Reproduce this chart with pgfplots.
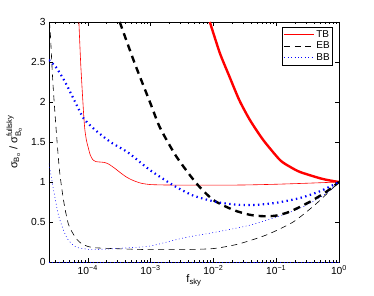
\documentclass[border=0pt]{standalone}
\usepackage{fontspec}
\setmainfont{Liberation Sans}
\usepackage{amsmath}
\usepackage{pgfplots}
\pgfplotsset{compat=1.18}
\begin{document}
\begin{tikzpicture}
\begin{axis}[
  scale only axis, width=290bp, height=240bp,
  xmode=log, xmin=2.42e-5, xmax=1, ymin=0, ymax=3,
  xtick={1e-4,1e-3,1e-2,1e-1,1},
  xticklabels={10\textsuperscript{−4},10\textsuperscript{−3},10\textsuperscript{−2},10\textsuperscript{−1},10\textsuperscript{0}},
  minor xtick={3e-5,4e-5,5e-5,6e-5,7e-5,8e-5,9e-5,2e-4,3e-4,4e-4,5e-4,6e-4,7e-4,8e-4,9e-4,2e-3,3e-3,4e-3,5e-3,6e-3,7e-3,8e-3,9e-3,2e-2,3e-2,4e-2,5e-2,6e-2,7e-2,8e-2,9e-2,0.2,0.3,0.4,0.5,0.6,0.7,0.8,0.9},
  ytick={0,0.5,1,1.5,2,2.5,3},
  tick align=inside, major tick length=4bp, minor tick length=2bp,
  every tick/.style={black, line width=0.4pt},
  axis line style={black, line width=0.5pt},
  tick label style={font=\fontsize{10.3}{11}\selectfont},
  /pgf/number format/assume math mode=true,
  label style={font=\fontsize{11}{12}\selectfont},
  xlabel={f\textsubscript{sky}},
  ylabel={$\text{σ}_{\text{B}_{\text{o}}}\text{ / }\text{σ}_{\text{B}_{\text{o}}}^{\text{fullsky}}$},
  xlabel style={at={(axis description cs:0.5,-0.075)}, anchor=center},
  ylabel style={at={(axis description cs:-0.12,0.5)}, anchor=center},
  legend style={at={(1,1)}, anchor=north east, xshift=-6bp, yshift=-5bp,
    draw=black, line width=0.5pt, font=\fontsize{10}{11}\selectfont,
    inner sep=1.5bp, row sep=0bp, cells={anchor=west},
    nodes={inner sep=1.6bp}},
  legend image code/.code={\draw[#1] (0bp,0bp) -- (30bp,0bp);},
  every axis plot/.append style={smooth, tension=0.4},
  clip=true,
]
% thin TB
\addplot[red, line width=0.6pt] table {
7.24e-5 3.0
7.76e-5 2.46
8.63e-5 1.84
9.02e-5 1.65
9.55e-5 1.52
1.012e-4 1.44
1.096e-4 1.34
1.202e-4 1.28
1.349e-4 1.255
1.549e-4 1.25
1.820e-4 1.245
2.089e-4 1.23
2.399e-4 1.20
2.818e-4 1.16
3.388e-4 1.11
4.169e-4 1.06
5.248e-4 1.02
7.079e-4 0.985
1e-3 0.968
1.995e-3 0.962
0.01 0.96
0.03162 0.963
0.1 0.972
0.3162 0.985
1 1.0
};
\addlegendentry{TB}
% thin EB
\addplot[black, line width=0.6pt, dash pattern=on 6bp off 4.5bp] table {
2.455e-5 3.0
2.541e-5 2.86
2.786e-5 2.25
3.162e-5 1.63
3.548e-5 1.15
3.981e-5 0.85
4.365e-5 0.66
4.898e-5 0.48
5.495e-5 0.39
6.607e-5 0.29
7.943e-5 0.23
1e-4 0.195
1.288e-4 0.178
2.512e-4 0.168
5.012e-4 0.16
1e-3 0.155
3.162e-3 0.155
0.01 0.168
0.02512 0.225
0.07079 0.34
0.1862 0.50
0.4365 0.73
1 1.0
};
\addlegendentry{EB}
% thin BB
\addplot[blue, line width=0.6pt, dash pattern=on 0.8bp off 2.6bp] table {
2.421e-5 1.23
2.692e-5 1.02
2.951e-5 0.84
3.388e-5 0.60
3.802e-5 0.47
4.365e-5 0.35
4.898e-5 0.275
5.888e-5 0.21
7.079e-5 0.178
1.148e-4 0.155
2.399e-4 0.165
5.012e-4 0.18
1e-3 0.20
3.311e-3 0.30
0.01122 0.375
0.03802 0.46
0.1288 0.59
0.302 0.71
0.631 0.86
1 1.0
};
\addlegendentry{BB}
% baseline dotted
\addplot[blue, line width=0.6pt, dash pattern=on 0.8bp off 2.6bp, forget plot] table {
2.42e-5 0
1 0
};
% thick TB
\addplot[red, line width=2.4pt, forget plot] table {
8.79e-3 3.0
0.01271 2.61
0.01778 2.33
0.02582 2.025
0.03819 1.775
0.06223 1.525
0.1148 1.275
0.166 1.19
0.2399 1.125
0.5012 1.046
0.7079 1.02
1 1.0
};
% thick EB
\addplot[black, line width=2.4pt, dash pattern=on 7bp off 5bp, forget plot] table {
3.236e-4 3.0
5.623e-4 2.48
1e-3 1.98
1.413e-3 1.68
2.570e-3 1.32
5.370e-3 0.983
0.01 0.775
0.02089 0.65
0.03802 0.59
0.0631 0.572
0.1 0.58
0.166 0.63
0.3467 0.754
0.631 0.879
1 1.0
};
% thick BB
\addplot[blue, line width=2.2pt, dash pattern=on 1.4bp off 3.4bp, forget plot] table {
2.421e-5 2.525
3.162e-5 2.43
4.365e-5 2.25
6.310e-5 2.0
8.511e-5 1.80
1.122e-4 1.70
1.462e-4 1.62
2.399e-4 1.49
4.365e-4 1.37
9.772e-4 1.15
2.291e-3 0.96
4.786e-3 0.83
0.01122 0.75
0.02512 0.715
0.05012 0.715
0.1 0.74
0.2399 0.80
0.5012 0.885
1 1.0
};
\end{axis}
\pgfresetboundingbox
\path[use as bounding box] (-49bp,-34bp) rectangle (325bp,262bp);
\end{tikzpicture}
\end{document}
